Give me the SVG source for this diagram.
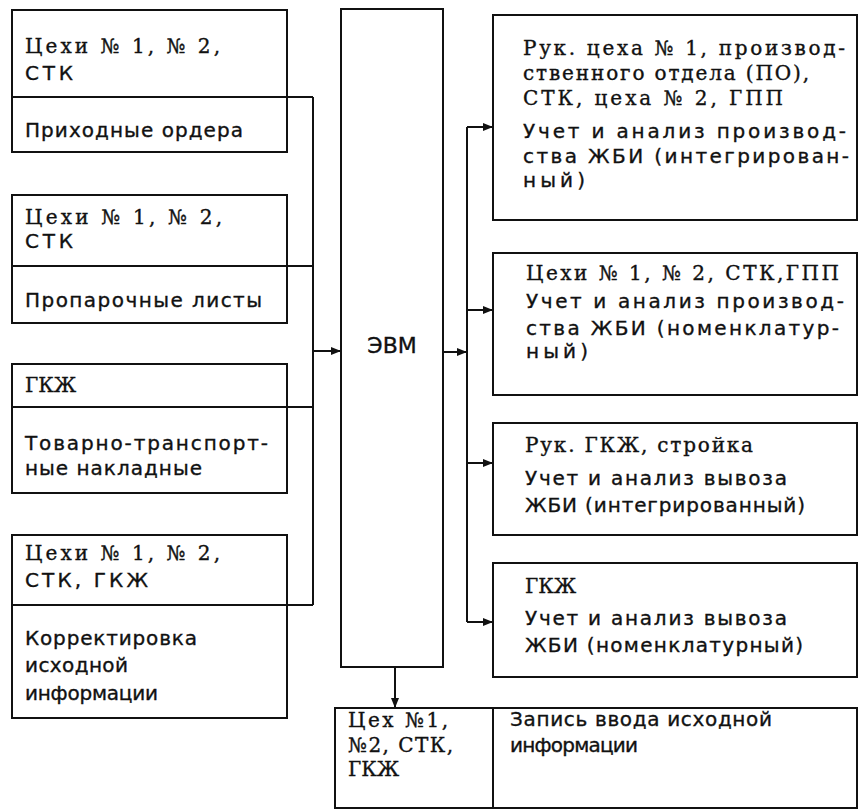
<svg xmlns="http://www.w3.org/2000/svg" width="860" height="810" viewBox="0 0 860 810">
<style>
.b{fill:#fff;stroke:#111;stroke-width:2}
.l{stroke:#111;stroke-width:2;fill:none}
.t{font-family:"DejaVu Sans","Noto Sans",sans-serif;font-size:20px;fill:#111;stroke:#111;stroke-width:0.35}
.s{font-family:"DejaVu Serif","Liberation Serif",serif;font-size:20px;fill:#111;stroke:#111;stroke-width:0.35}
</style>
<defs>
<marker id="ah" markerUnits="userSpaceOnUse" markerWidth="10" markerHeight="8" refX="10" refY="4" orient="auto">
<path d="M0,0 L10,4 L0,8 z" fill="#111"/>
</marker>
</defs>
<rect width="860" height="810" fill="#fff"/>

<g id="connectors">
<path class="l" d="M287,97 H313 M287,266 H313 M287,407 H313 M287,605 H313 M313,97 V605"/>
<path class="l" d="M313,351 H341" marker-end="url(#ah)"/>
<path class="l" d="M443,352 H467" marker-end="url(#ah)"/>
<path class="l" d="M467,127 V622"/>
<path class="l" d="M467,127 H493" marker-end="url(#ah)"/>
<path class="l" d="M467,310 H493" marker-end="url(#ah)"/>
<path class="l" d="M467,463 H493" marker-end="url(#ah)"/>
<path class="l" d="M467,622 H493" marker-end="url(#ah)"/>
<path class="l" d="M395,667 V708" marker-end="url(#ah)"/>
</g>

<g id="in1">
<rect class="b" x="12" y="10" width="275" height="142"/>
<line class="l" x1="12" y1="97" x2="287" y2="97"/>
<text class="s" x="25" y="53" textLength="195" lengthAdjust="spacing">Цехи № 1, № 2,</text>
<text class="t" x="25" y="80" textLength="48" lengthAdjust="spacing">СТК</text>
<text class="t" x="25" y="137" textLength="218" lengthAdjust="spacing">Приходные ордера</text>
</g>

<g id="in2">
<rect class="b" x="12" y="195" width="275" height="128"/>
<line class="l" x1="12" y1="266" x2="287" y2="266"/>
<text class="s" x="25" y="224" textLength="197" lengthAdjust="spacing">Цехи № 1, № 2,</text>
<text class="t" x="25" y="248" textLength="48" lengthAdjust="spacing">СТК</text>
<text class="t" x="25" y="307" textLength="237" lengthAdjust="spacing">Пропарочные листы</text>
</g>

<g id="in3">
<rect class="b" x="12" y="364" width="275" height="129"/>
<line class="l" x1="12" y1="407" x2="287" y2="407"/>
<text class="s" x="25" y="392">ГКЖ</text>
<text class="t" x="25" y="450" textLength="243" lengthAdjust="spacing">Товарно-транспорт-</text>
<text class="t" x="25" y="475" textLength="177" lengthAdjust="spacing">ные накладные</text>
</g>

<g id="in4">
<rect class="b" x="12" y="535" width="275" height="183"/>
<line class="l" x1="12" y1="605" x2="287" y2="605"/>
<text class="s" x="25" y="560" textLength="195" lengthAdjust="spacing">Цехи № 1, № 2,</text>
<text class="t" x="25" y="587" textLength="123" lengthAdjust="spacing">СТК, ГКЖ</text>
<text class="t" x="25" y="645" textLength="172" lengthAdjust="spacing">Корректировка</text>
<text class="t" x="25" y="672" textLength="103" lengthAdjust="spacing">исходной</text>
<text class="t" x="25" y="700" textLength="133" lengthAdjust="spacing">информации</text>
</g>

<g id="evm">
<rect class="b" x="341" y="9" width="102" height="658"/>
<text class="t" x="392" y="353" text-anchor="middle" style="font-size:22px">ЭВМ</text>
</g>

<g id="out1">
<rect class="b" x="493" y="15" width="364" height="205"/>
<text class="s" x="523" y="55" textLength="322" lengthAdjust="spacing">Рук. цеха № 1, производ-</text>
<text class="s" x="523" y="80" textLength="286" lengthAdjust="spacing">ственного отдела (ПО),</text>
<text class="s" x="523" y="105" textLength="260" lengthAdjust="spacing">СТК, цеха № 2, ГПП</text>
<text class="t" x="523" y="138" textLength="323" lengthAdjust="spacing">Учет и анализ производ-</text>
<text class="t" x="523" y="163" textLength="326" lengthAdjust="spacing">ства ЖБИ (интегрирован-</text>
<text class="t" x="523" y="187" textLength="62" lengthAdjust="spacing">ный)</text>
</g>

<g id="out2">
<rect class="b" x="493" y="253" width="364" height="142"/>
<text class="s" x="526" y="280" textLength="313" lengthAdjust="spacing">Цехи № 1, № 2, СТК,ГПП</text>
<text class="t" x="526" y="308" textLength="318" lengthAdjust="spacing">Учет и анализ производ-</text>
<text class="t" x="526" y="335" textLength="313" lengthAdjust="spacing">ства ЖБИ (номенклатур-</text>
<text class="t" x="526" y="358" textLength="62" lengthAdjust="spacing">ный)</text>
</g>

<g id="out3">
<rect class="b" x="493" y="423" width="364" height="112"/>
<text class="s" x="525" y="452" textLength="228" lengthAdjust="spacing">Рук. ГКЖ, стройка</text>
<text class="t" x="525" y="485" textLength="262" lengthAdjust="spacing">Учет и анализ вывоза</text>
<text class="t" x="525" y="512" textLength="280" lengthAdjust="spacing">ЖБИ (интегрированный)</text>
</g>

<g id="out4">
<rect class="b" x="493" y="563" width="364" height="114"/>
<text class="s" x="525" y="593">ГКЖ</text>
<text class="t" x="525" y="625" textLength="262" lengthAdjust="spacing">Учет и анализ вывоза</text>
<text class="t" x="525" y="652" textLength="278" lengthAdjust="spacing">ЖБИ (номенклатурный)</text>
</g>

<g id="record">
<rect class="b" x="335" y="708" width="522" height="100"/>
<line class="l" x1="493" y1="708" x2="493" y2="808"/>
<text class="s" x="348" y="727" textLength="100" lengthAdjust="spacing">Цех №1,</text>
<text class="s" x="348" y="752" textLength="105" lengthAdjust="spacing">№2, СТК,</text>
<text class="s" x="348" y="776">ГКЖ</text>
<text class="t" x="510" y="726" textLength="262" lengthAdjust="spacing">Запись ввода исходной</text>
<text class="t" x="510" y="752" textLength="128" lengthAdjust="spacing">информации</text>
</g>
</svg>
